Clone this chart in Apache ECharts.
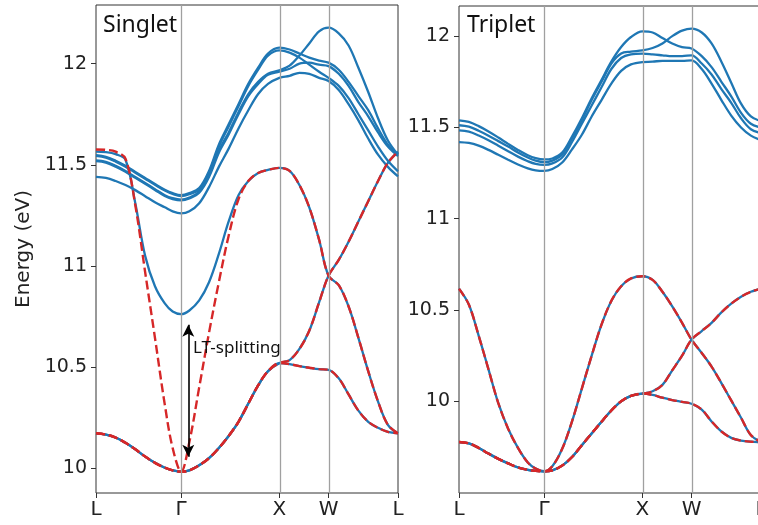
<!DOCTYPE html>
<html>
<head>
<meta charset="utf-8">
<script src="https://cdn.jsdelivr.net/npm/echarts@6/dist/echarts.min.js"></script>
<style>
  html, body { margin: 0; padding: 0; background: #fff; }
  #chart { width: 758px; height: 525px; }
</style>
</head>
<body>
<div id="chart"></div>
<script>
// k-path sample positions (L -> Γ -> X -> W -> L), in units of 2π/a
const K = [0, 0.1, 0.2, 0.3, 0.4, 0.5, 0.6, 0.7, 0.78, 0.866,
           0.95, 1.05, 1.15, 1.25, 1.35, 1.45, 1.55, 1.65, 1.75, 1.866,
           1.97, 2.07, 2.17, 2.27, 2.366,
           2.47, 2.57, 2.67, 2.77, 2.87, 2.97, 3.073];

// high-symmetry points
const HS_POS = [0, 0.866, 1.866, 2.366, 3.073];
const HS_LABELS = ['L', 'Γ', 'X', 'W', 'L'];
const HS_LINES = [0.866, 1.866, 2.366];
const Y_TICKS = [10, 10.5, 11, 11.5, 12];

// ---- Singlet excitons (eV) ----
// transverse branch, lower continuation after X
const singletT1 = [10.173, 10.167, 10.152, 10.126, 10.094, 10.058, 10.027, 10.003, 9.99, 9.983,
                   9.99, 10.015, 10.05, 10.10, 10.16, 10.23, 10.32, 10.41, 10.48, 10.52,
                   10.515, 10.505, 10.497, 10.49, 10.487,
                   10.445, 10.365, 10.285, 10.23, 10.20, 10.18, 10.173];
// transverse branch, upper continuation after X
const singletT2 = [10.173, 10.167, 10.152, 10.126, 10.094, 10.058, 10.027, 10.003, 9.99, 9.983,
                   9.99, 10.015, 10.05, 10.10, 10.16, 10.23, 10.32, 10.41, 10.48, 10.52,
                   10.535, 10.59, 10.68, 10.82, 10.952,
                   11.03, 11.12, 11.22, 11.32, 11.42, 11.51, 11.565];
// longitudinal branch without the LT splitting
const singletLnoSplit = [11.576, 11.574, 11.565, 11.53, 11.30, 10.97, 10.645, 10.315, 10.10, 9.983,
                         10.13, 10.40, 10.67, 10.92, 11.15, 11.33, 11.42, 11.46, 11.475, 11.485,
                         11.47, 11.40, 11.29, 11.13, 10.952,
                         10.905, 10.80, 10.645, 10.48, 10.33, 10.215, 10.173];
// longitudinal branch with the LT splitting
const singletLO = [11.565, 11.563, 11.553, 11.525, 11.31, 11.05, 10.90, 10.815, 10.775, 10.762,
                   10.78, 10.83, 10.92, 11.06, 11.22, 11.35, 11.42, 11.46, 11.475, 11.485,
                   11.47, 11.40, 11.29, 11.13, 10.952,
                   10.905, 10.80, 10.645, 10.48, 10.33, 10.215, 10.173];
// upper manifold
const singletU1 = [11.548, 11.54, 11.52, 11.495, 11.465, 11.435, 11.405, 11.377, 11.36, 11.35,
                   11.36, 11.385, 11.47, 11.60, 11.70, 11.80, 11.90, 11.98, 12.05, 12.079,
                   12.07, 12.05, 12.03, 12.015, 12.005,
                   11.97, 11.91, 11.84, 11.77, 11.68, 11.60, 11.55];
const singletU2 = [11.544, 11.536, 11.516, 11.491, 11.461, 11.431, 11.401, 11.373, 11.356, 11.346,
                   11.355, 11.378, 11.46, 11.59, 11.69, 11.79, 11.89, 11.97, 12.04, 12.066,
                   12.055, 12.03, 11.995, 11.96, 11.93,
                   11.89, 11.83, 11.75, 11.67, 11.59, 11.52, 11.468];
const singletU3 = [11.522, 11.515, 11.495, 11.47, 11.44, 11.41, 11.38, 11.35, 11.335, 11.328,
                   11.338, 11.368, 11.45, 11.57, 11.66, 11.76, 11.85, 11.91, 11.95, 11.967,
                   11.99, 12.04, 12.10, 12.16, 12.178,
                   12.15, 12.09, 11.98, 11.86, 11.73, 11.62, 11.55];
const singletU4 = [11.518, 11.511, 11.491, 11.466, 11.436, 11.406, 11.376, 11.346, 11.331, 11.324,
                   11.334, 11.362, 11.44, 11.56, 11.65, 11.75, 11.84, 11.90, 11.945, 11.96,
                   11.975, 12.0, 12.005, 11.995, 11.988,
                   11.95, 11.89, 11.81, 11.74, 11.66, 11.59, 11.543];
const singletU5 = [11.44, 11.435, 11.42, 11.40, 11.375, 11.345, 11.315, 11.29, 11.27, 11.26,
                   11.27, 11.31, 11.39, 11.49, 11.58, 11.68, 11.77, 11.85, 11.90, 11.93,
                   11.94, 11.955, 11.95, 11.93, 11.914,
                   11.87, 11.80, 11.72, 11.63, 11.55, 11.49, 11.443];

// ---- Triplet excitons (eV) ----
const tripletA = [10.617, 10.53, 10.36, 10.175, 9.99, 9.85, 9.745, 9.665, 9.632, 9.617,
                  9.645, 9.74, 9.89, 10.07, 10.25, 10.42, 10.55, 10.63, 10.673, 10.685,
                  10.665, 10.60, 10.52, 10.43, 10.338,
                  10.265, 10.19, 10.10, 10.005, 9.91, 9.815, 9.778];
const tripletB = [9.777, 9.77, 9.745, 9.714, 9.685, 9.66, 9.638, 9.625, 9.619, 9.617,
                  9.622, 9.648, 9.695, 9.76, 9.824, 9.888, 9.95, 10.0, 10.03, 10.042,
                  10.035, 10.02, 10.007, 9.997, 9.987,
                  9.955, 9.89, 9.835, 9.80, 9.785, 9.779, 9.777];
const tripletC = [9.777, 9.77, 9.745, 9.714, 9.685, 9.66, 9.638, 9.625, 9.619, 9.617,
                  9.622, 9.648, 9.695, 9.76, 9.824, 9.888, 9.95, 10.0, 10.03, 10.042,
                  10.055, 10.09, 10.17, 10.25, 10.338,
                  10.385, 10.43, 10.487, 10.535, 10.573, 10.60, 10.617];
const tripletV1 = [11.539, 11.53, 11.507, 11.478, 11.445, 11.41, 11.377, 11.348, 11.332, 11.325,
                   11.33, 11.362, 11.45, 11.55, 11.66, 11.76, 11.86, 11.94, 11.995, 12.026,
                   12.02, 11.99, 11.96, 11.94, 11.932,
                   11.89, 11.83, 11.75, 11.67, 11.58, 11.52, 11.50];
const tripletV2 = [11.512, 11.504, 11.482, 11.455, 11.425, 11.395, 11.363, 11.335, 11.318, 11.31,
                   11.318, 11.352, 11.44, 11.54, 11.65, 11.75, 11.85, 11.905, 11.915, 11.922,
                   11.935, 11.96, 12.0, 12.03, 12.041,
                   12.02, 11.96, 11.86, 11.745, 11.63, 11.56, 11.535];
const tripletV3 = [11.484, 11.477, 11.456, 11.43, 11.40, 11.37, 11.34, 11.315, 11.30, 11.295,
                   11.303, 11.335, 11.42, 11.52, 11.62, 11.72, 11.82, 11.88, 11.90, 11.904,
                   11.90, 11.895, 11.89, 11.89, 11.895,
                   11.85, 11.79, 11.71, 11.635, 11.55, 11.49, 11.47];
const tripletV4 = [11.42, 11.415, 11.40, 11.377, 11.35, 11.323, 11.297, 11.276, 11.265, 11.262,
                   11.272, 11.308, 11.38, 11.46, 11.56, 11.65, 11.74, 11.81, 11.845, 11.858,
                   11.86, 11.865, 11.865, 11.865, 11.867,
                   11.82, 11.74, 11.65, 11.565, 11.50, 11.455, 11.43];

// LT-splitting arrow at Γ: [k, E_bottom, E_top]
const LT_ARROW = [0.939, 10.057, 10.709];

const BLUE = '#1f77b4';
const RED = '#d62728';

function band(values, panel, dashed) {
  return {
    type: 'line',
    xAxisIndex: panel,
    yAxisIndex: panel,
    data: K.map((k, i) => [k, values[i]]),
    showSymbol: false,
    symbol: 'none',
    smooth: 0.35,
    silent: true,
    z: dashed ? 4 : 3,
    lineStyle: dashed
      ? { color: RED, width: 2.4, type: [9, 4] }
      : { color: BLUE, width: 2.3 }
  };
}

function symmetryLines(panel) {
  return {
    type: 'line',
    xAxisIndex: panel,
    yAxisIndex: panel,
    data: [],
    silent: true,
    z: 1,
    markLine: {
      silent: true,
      symbol: 'none',
      animation: false,
      label: { show: false },
      lineStyle: { color: '#a0a0a0', width: 1.3, type: 'solid' },
      data: HS_LINES.map(v => ({ xAxis: v }))
    }
  };
}

const fmtY = v => String(Math.round(v * 10) / 10);
const fmtX = v => {
  let best = 0;
  HS_POS.forEach((p, i) => { if (Math.abs(p - v) < Math.abs(HS_POS[best] - v)) best = i; });
  return HS_LABELS[best];
};

function xAxis(panel) {
  return {
    type: 'value', gridIndex: panel, min: 0, max: 3.073,
    axisLine: { show: false },
    splitLine: { show: false },
    axisTick: { show: true, customValues: HS_POS, length: 5, lineStyle: { color: '#333', width: 1 } },
    axisLabel: {
      customValues: HS_POS, formatter: fmtX, margin: 7,
      fontFamily: 'DejaVu Sans', fontSize: 20, color: '#222'
    }
  };
}

function yAxis(panel, min, max, name) {
  return {
    type: 'value', gridIndex: panel, min: min, max: max,
    name: name, nameLocation: 'middle', nameGap: 62, nameRotate: 90,
    nameTextStyle: { fontFamily: 'DejaVu Sans', fontSize: 20, color: '#222' },
    axisLine: { show: false },
    splitLine: { show: false },
    axisTick: { show: true, customValues: Y_TICKS, length: 5, lineStyle: { color: '#333', width: 1 } },
    axisLabel: {
      customValues: Y_TICKS, formatter: fmtY, margin: 9,
      fontFamily: 'DejaVu Sans', fontSize: 19, color: '#222'
    }
  };
}

const series = [
  symmetryLines(0),
  symmetryLines(1),
  // Singlet, blue solid
  band(singletU1, 0), band(singletU2, 0), band(singletU3, 0), band(singletU4, 0), band(singletU5, 0),
  band(singletLO, 0), band(singletT1, 0), band(singletT2, 0),
  // Singlet, red dashed
  band(singletLnoSplit, 0, true), band(singletT1, 0, true), band(singletT2, 0, true),
  // Triplet, blue solid
  band(tripletV1, 1), band(tripletV2, 1), band(tripletV3, 1), band(tripletV4, 1),
  band(tripletA, 1), band(tripletB, 1), band(tripletC, 1),
  // Triplet, red dashed
  band(tripletA, 1, true), band(tripletB, 1, true), band(tripletC, 1, true),
  // LT-splitting double arrow
  {
    type: 'line', xAxisIndex: 0, yAxisIndex: 0, data: [], silent: true, z: 6,
    markLine: {
      silent: true, animation: false,
      symbol: ['arrow', 'arrow'], symbolSize: [9, 12],
      label: { show: false },
      lineStyle: { color: '#000', width: 1.6, type: 'solid' },
      data: [[{ coord: [LT_ARROW[0], LT_ARROW[1]] }, { coord: [LT_ARROW[0], LT_ARROW[2]] }]]
    }
  }
];

const chart = echarts.init(document.getElementById('chart'), null, { renderer: 'canvas' });
chart.setOption({
  animation: false,
  backgroundColor: '#fff',
  title: [
    { text: 'Singlet', left: 103, top: 14, padding: 0,
      textStyle: { fontFamily: 'Noto Sans', fontSize: 23, fontWeight: 'normal', color: '#111' } },
    { text: 'Triplet', left: 467, top: 14, padding: 0,
      textStyle: { fontFamily: 'Noto Sans', fontSize: 23, fontWeight: 'normal', color: '#111' } }
  ],
  grid: [
    { left: 96, top: 5, width: 302, height: 488, outerBoundsMode: 'none',
      show: true, borderColor: '#333', borderWidth: 1, backgroundColor: 'transparent' },
    { left: 459, top: 6, width: 302, height: 487, outerBoundsMode: 'none',
      show: true, borderColor: '#333', borderWidth: 1, backgroundColor: 'transparent' }
  ],
  xAxis: [xAxis(0), xAxis(1)],
  yAxis: [yAxis(0, 9.878, 12.29, 'Energy (eV)'), yAxis(1, 9.498, 12.165, '')],
  graphic: [
    { type: 'text', left: 193, top: 340, z: 10,
      style: { text: 'LT-splitting', font: '17px "Noto Sans"', fill: '#111' } }
  ],
  series: series
});
</script>
</body>
</html>
